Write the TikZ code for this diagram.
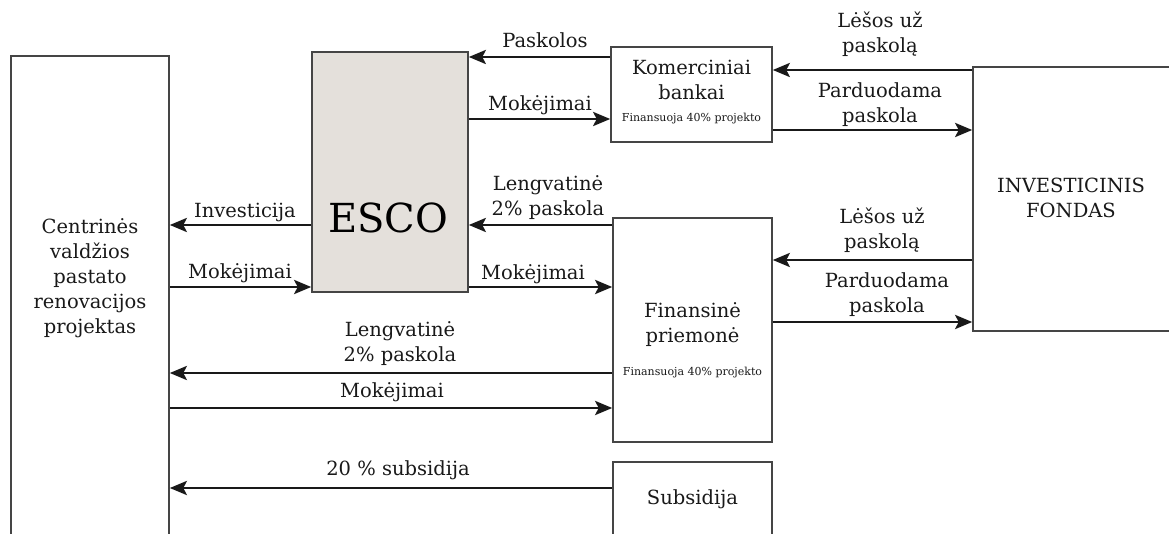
\documentclass[tikz,border=0pt]{standalone}
\usepackage{fontspec}
\setmainfont{DejaVu Serif}
\usetikzlibrary{arrows.meta}
\definecolor{escofill}{HTML}{E4E0DB}
\definecolor{boxline}{HTML}{454545}
\tikzset{
  boxnode/.style={draw=boxline, line width=1.6pt, inner sep=0pt},
  arr/.style={line width=2.8pt, draw=black!90, -{Stealth[length=17pt,width=14pt,inset=3.5pt]}},
  lbl/.style={inner sep=0pt, align=center, font=\fontsize{19.5}{25}\selectfont, text=black!90},
  small/.style={inner sep=0pt, font=\fontsize{11}{13}\selectfont, text=black!90}
}
\begin{document}
\begin{tikzpicture}[x=1pt,y=-1pt]
\useasboundingbox (0,0) rectangle (1169,534);
\clip (0,0) rectangle (1169,534);
\fill[white] (0,0) rectangle (1169,534);
% boxes
\node[boxnode, minimum width=158pt, minimum height=504pt] (left) at (90,308) {};
\node[lbl] (lefttext) at (90,278) {Centrinės\\valdžios\\pastato\\renovacijos\\projektas};
\node[boxnode, fill=escofill, minimum width=156pt, minimum height=240pt] (esco) at (390,172) {};
\node[inner sep=0pt, font=\fontsize{40}{44}\selectfont] (escotext) at (388,218) {ESCO};
\node[boxnode, minimum width=161pt, minimum height=95pt] (kom) at (691.5,94.5) {};
\node[lbl] (komtext) at (691.5,80) {Komerciniai\\bankai};
\node[small] (komsmall) at (691.5,119) {Finansuoja 40\% projekto};
\node[boxnode, minimum width=159pt, minimum height=224pt] (fin) at (692.5,330) {};
\node[lbl] (fintext) at (692.5,324.5) {Finansinė\\priemonė};
\node[small] (finsmall) at (692.5,373) {Finansuoja 40\% projekto};
\node[boxnode, minimum width=159pt, minimum height=96pt] (sub) at (692.5,510) {};
\node[lbl] (subtext) at (692.5,499) {Subsidija};
\node[boxnode, minimum width=212pt, minimum height=264pt] (inv) at (1079,199) {};
\node[lbl] (invtext) at (1071,197.5) {INVESTICINIS\\FONDAS};
% arrows
\draw[arr] (kom.west |- 0,57) -- (esco.east |- 0,57);
\draw[arr] (esco.east |- 0,119) -- (kom.west |- 0,119);
\draw[arr] (inv.west |- 0,70) -- (kom.east |- 0,70);
\draw[arr] (kom.east |- 0,130) -- (inv.west |- 0,130);
\draw[arr] (fin.west |- 0,225) -- (esco.east |- 0,225);
\draw[arr] (esco.east |- 0,287) -- (fin.west |- 0,287);
\draw[arr] (esco.west |- 0,225) -- (left.east |- 0,225);
\draw[arr] (left.east |- 0,287) -- (esco.west |- 0,287);
\draw[arr] (inv.west |- 0,260) -- (fin.east |- 0,260);
\draw[arr] (fin.east |- 0,322) -- (inv.west |- 0,322);
\draw[arr] (fin.west |- 0,373) -- (left.east |- 0,373);
\draw[arr] (left.east |- 0,408) -- (fin.west |- 0,408);
\draw[arr] (sub.west |- 0,488) -- (left.east |- 0,488);
% labels
\node[lbl] (l1) at (545,40) {Paskolos};
\node[lbl] (l2) at (540,105) {Mokėjimai};
\node[lbl] (l3) at (880,34) {Lėšos už\\paskolą};
\node[lbl] (l4) at (880,104.5) {Parduodama\\paskola};
\node[lbl] (l5) at (548,197.5) {Lengvatinė\\2\% paskola};
\node[lbl] (l6) at (533,274) {Mokėjimai};
\node[lbl] (l7) at (245,212) {Investicija};
\node[lbl] (l8) at (240,273) {Mokėjimai};
\node[lbl] (l9) at (882,230.5) {Lėšos už\\paskolą};
\node[lbl] (l10) at (887,295) {Parduodama\\paskola};
\node[lbl] (l11) at (400,344) {Lengvatinė\\2\% paskola};
\node[lbl] (l12) at (392,392) {Mokėjimai};
\node[lbl] (l13) at (398,470) {20 \% subsidija};
\end{tikzpicture}
\end{document}
